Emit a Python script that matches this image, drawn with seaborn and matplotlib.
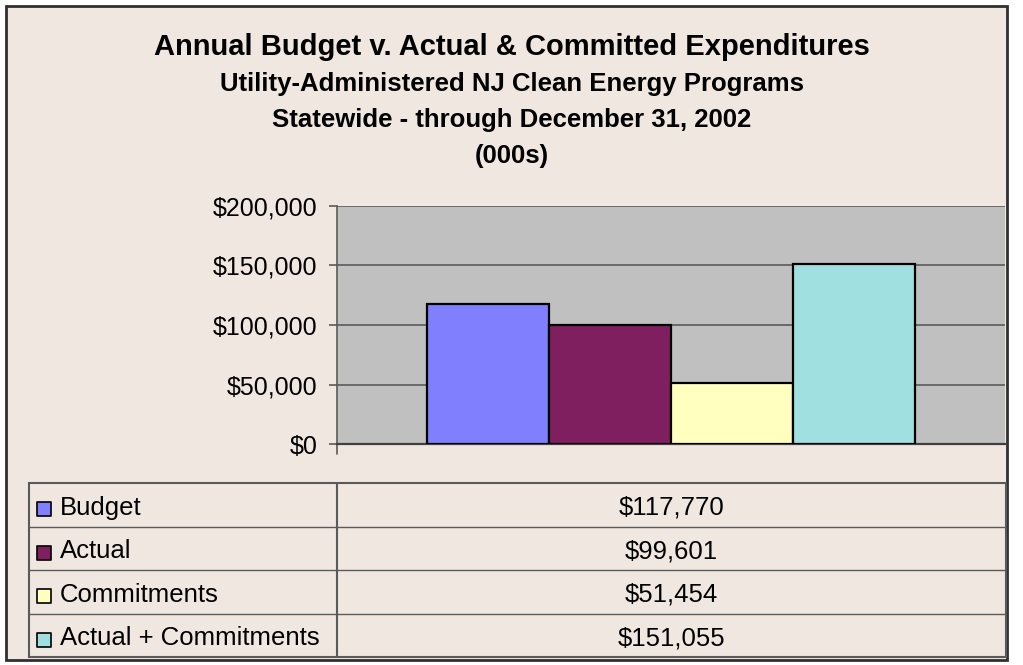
#!/usr/bin/python3
"""Annual Budget v. Actual & Committed Expenditures - bar chart with data table."""

# %% Import dependencies ----
import matplotlib
matplotlib.use('Agg')
import matplotlib.pyplot as plt
from matplotlib.patches import Rectangle
from matplotlib.ticker import FuncFormatter
import pandas as pd
import seaborn as sns

# %% Data ----
categories = ['Budget', 'Actual', 'Commitments', 'Actual + Commitments']
values = [117770, 99601, 51454, 151055]
value_labels = ['$117,770', '$99,601', '$51,454', '$151,055']
colors = ['#8080FF', '#801F5F', '#FFFFC0', '#A0E0E0']
y_ticks = [0, 50000, 100000, 150000, 200000]

title_lines = ['Annual Budget v. Actual & Committed Expenditures',
               'Utility-Administered NJ Clean Energy Programs',
               'Statewide - through December 31, 2002',
               '(000s)']

df = pd.DataFrame({'group': [''] * len(categories),
                   'series': categories,
                   'value': values})

# %% Style ----
sns.set_theme(style='white')
plt.rcParams['font.family'] = ['Liberation Sans', 'DejaVu Sans']
plt.rcParams['text.color'] = 'black'

W, H = 1023, 665
fig = plt.figure(figsize=(W / 100, H / 100), dpi=100)
fig.patch.set_facecolor('white')

bg = '#F0E7E1'
line_c = '#5A5A5A'

# outer chart frame (behind everything)
fig.patches.append(Rectangle((6 / W, 1 - 660 / H), 1001 / W, 654 / H,
                             transform=fig.transFigure, facecolor=bg,
                             edgecolor='#303030', lw=2, zorder=-5))

# %% Titles ----
fig.text(0.5, 1 - 47 / H, title_lines[0], ha='center', va='center',
         fontsize=21, fontweight='bold', color='black')
for i, t in enumerate(title_lines[1:]):
    fig.text(0.5, 1 - (84 + 36 * i) / H, t, ha='center', va='center',
             fontsize=18.5, fontweight='bold', color='black')

# %% Bar chart ----
ax = fig.add_axes([337 / W, 1 - 444 / H, 668 / W, 238 / H])
ax.set_facecolor('#C0C0C0')
sns.barplot(data=df, x='group', y='value', hue='series', palette=colors,
            hue_order=categories, width=0.73, gap=0, dodge=True,
            edgecolor='black', linewidth=1.6, legend=False, ax=ax, zorder=3,
            saturation=1)
ax.set_xlim(-0.5, 0.5)
ax.set_ylim(0, 200000)
ax.set_yticks(y_ticks)
ax.yaxis.set_major_formatter(FuncFormatter(lambda v, p: f'${v:,.0f}'))
ax.grid(axis='y', color=line_c, lw=1.2, zorder=1)
ax.set_axisbelow(True)
ax.set_xlabel('')
ax.set_ylabel('')
ax.set_xticks([])
for s in ['top', 'right']:
    ax.spines[s].set_visible(False)
ax.spines['left'].set_color(line_c)
ax.spines['left'].set_linewidth(1.2)
ax.spines['bottom'].set_color('#404040')
ax.spines['bottom'].set_linewidth(1.6)
ax.tick_params(axis='y', direction='out', length=6, width=1.2, color=line_c,
               labelsize=18, labelcolor='black', pad=8, left=True)
# category axis tick below the origin
ax.plot([0, 0], [0, -0.04], transform=ax.transAxes, color=line_c,
        lw=1.2, clip_on=False)

# %% Data table ----
tx = fig.add_axes([29 / W, 1 - 657 / H, 977 / W, 174 / H])
tx.set_xlim(0, 977)
tx.set_ylim(len(categories), 0)
tx.axis('off')
split = 308
for i in range(1, len(categories)):
    tx.axhline(i, color=line_c, lw=1)
tx.plot([split, split], [0, len(categories)], color=line_c, lw=1.5)
tx.add_patch(Rectangle((0, 0), 977, len(categories), fill=False,
                       edgecolor=line_c, lw=1.5, clip_on=False))
for i, (cat, lab, col) in enumerate(zip(categories, value_labels, colors)):
    tx.scatter([15], [i + 0.6], marker='s', s=100, color=col,
               edgecolor='black', linewidth=1.2, zorder=3, clip_on=False)
    tx.text(31, i + 0.57, cat, ha='left', va='center', fontsize=18.5,
            color='black')
    tx.text((split + 977) / 2, i + 0.57, lab, ha='center', va='center',
            fontsize=18.5, color='black')

fig.savefig('out.png', dpi=100, facecolor=fig.get_facecolor())
